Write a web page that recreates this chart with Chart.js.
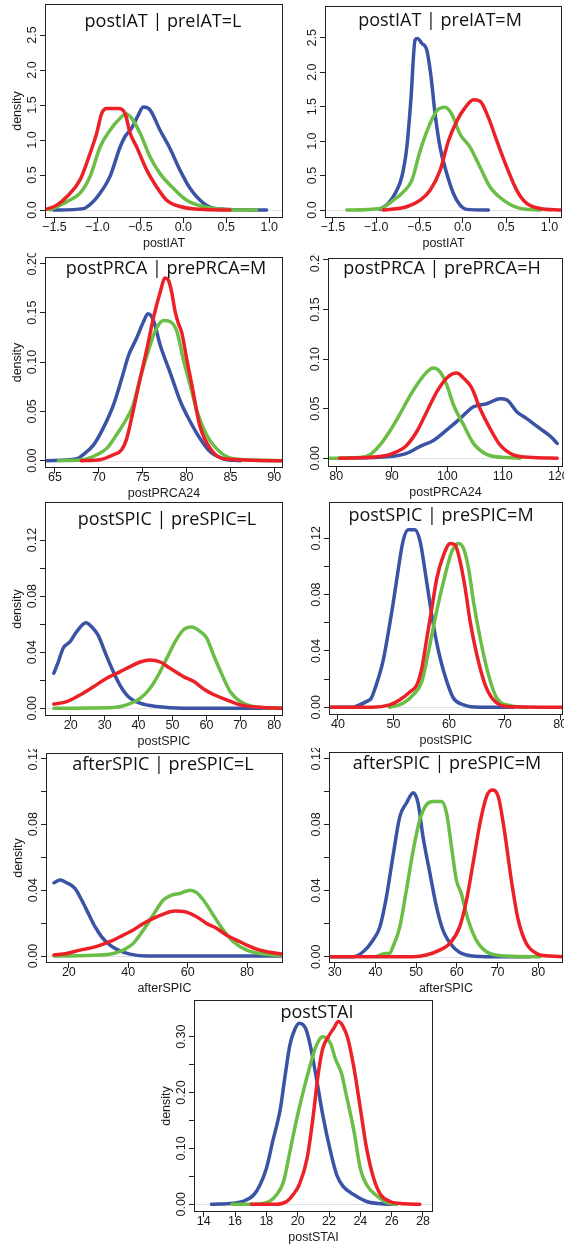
<!DOCTYPE html>
<html><head><meta charset="utf-8">
<script src="https://cdn.jsdelivr.net/npm/chart.js@4.4.1/dist/chart.umd.min.js"></script>
<style>
html,body{margin:0;padding:0;background:#fff;width:564px;height:1245px;overflow:hidden;position:relative}
canvas{position:absolute}
</style>
</head><body>
<script>
// ---------- titles / axis labels ----------
const panelTitles = ["postIAT | preIAT=L","postIAT | preIAT=M","postPRCA | prePRCA=M","postPRCA | prePRCA=H",
  "postSPIC | preSPIC=L","postSPIC | preSPIC=M","afterSPIC | preSPIC=L","afterSPIC | preSPIC=M","postSTAI"];
const xTitles = ["postIAT","postIAT","postPRCA24","postPRCA24","postSPIC","postSPIC","afterSPIC","afterSPIC","postSTAI"];
const yTitles = ["density","","density","","density","","density","","density"];

// ---------- tick values / labels ----------
const iatXTicks = [-1.5,-1.0,-0.5,0,0.5,1.0];
const iatXLabels = ["\u22121.5","\u22121.0","\u22120.5","0.0","0.5","1.0"];
const iatYTicks = [0,0.5,1.0,1.5,2.0,2.5];
const iatYLabels = ["0.0","0.5","1.0","1.5","2.0","2.5"];
const prcaMXTicks = [65,70,75,80,85,90];
const prcaHXTicks = [80,90,100,110,120];
const prcaYTicks = [0,0.05,0.10,0.15,0.20];
const prcaYLabels = ["0.00","0.05","0.10","0.15","0.20"];
const spicLXTicks = [20,30,40,50,60,70,80];
const spicMXTicks = [40,50,60,70,80];
const afterLXTicks = [20,40,60,80];
const afterMXTicks = [30,40,50,60,70,80];
const spicYTicks = [0,0.02,0.04,0.06,0.08,0.10,0.12];
const spicYLabels = ["0.00","","0.04","","0.08","","0.12"];
const staiXTicks = [14,16,18,20,22,24,26,28];
const staiYTicks = [0,0.05,0.10,0.15,0.20,0.25,0.30];
const staiYLabels = ["0.00","","0.10","","0.20","","0.30"];

// ---------- density curves (x, y) ----------
// Panel 1: postIAT | preIAT=L
const p1RedX = [-1.597,-1.473,-1.357,-1.202,-1.085,-1.008,-0.95,-0.891,-0.756,-0.678,-0.62,-0.543,-0.426,-0.31,-0.194,-0.039,0.194,0.543];
const p1RedY = [0.01,0.07,0.19,0.43,0.81,1.10,1.38,1.45,1.45,1.38,1.10,0.90,0.57,0.33,0.14,0.05,0.01,0.0];
const p1GreenX = [-1.55,-1.357,-1.202,-1.085,-0.969,-0.853,-0.736,-0.667,-0.601,-0.504,-0.388,-0.271,-0.116,0.039,0.233,0.581,0.853];
const p1GreenY = [0.0,0.12,0.24,0.48,0.90,1.14,1.31,1.37,1.31,1.10,0.76,0.52,0.31,0.14,0.05,0.0,0.0];
const p1BlueX = [-1.512,-1.163,-1.066,-0.969,-0.853,-0.736,-0.678,-0.601,-0.523,-0.465,-0.388,-0.271,-0.155,-0.039,0.078,0.233,0.388,0.969];
const p1BlueY = [0.0,0.02,0.10,0.24,0.48,0.90,1.05,1.17,1.36,1.47,1.43,1.14,0.88,0.57,0.31,0.10,0.02,0.0];
// Panel 2: postIAT | preIAT=M
const p2RedX = [-0.915,-0.646,-0.492,-0.377,-0.262,-0.165,-0.069,0.027,0.123,0.2,0.296,0.392,0.508,0.623,0.738,0.892,1.142];
const p2RedY = [0.0,0.048,0.144,0.287,0.575,1.006,1.29,1.485,1.60,1.58,1.34,1.006,0.62,0.287,0.096,0.024,0.0];
const p2GreenX = [-1.338,-0.954,-0.8,-0.685,-0.588,-0.492,-0.396,-0.3,-0.204,-0.127,-0.031,0.085,0.2,0.315,0.469,0.662,0.892];
const p2GreenY = [0.0,0.024,0.144,0.263,0.43,0.86,1.20,1.44,1.49,1.39,1.10,0.91,0.62,0.335,0.144,0.024,0.0];
const p2BlueX = [-0.954,-0.858,-0.781,-0.704,-0.646,-0.6,-0.55,-0.523,-0.473,-0.415,-0.369,-0.319,-0.262,-0.185,-0.108,-0.031,0.046,0.296];
const p2BlueY = [0.01,0.10,0.24,0.48,0.91,1.58,2.47,2.49,2.42,2.32,1.96,1.39,0.91,0.53,0.24,0.07,0.01,0.0];
// Panel 3: postPRCA | prePRCA=M
const p3RedX = [68.0,70.1,71.65,72.6,73.2,73.9,74.7,75.5,76.2,77.0,77.55,77.93,78.3,78.7,79.07,79.45,80.0,80.6,81.5,82.7,84.2,91.0];
const p3RedY = [0,0.001,0.006,0.011,0.023,0.05,0.083,0.114,0.144,0.171,0.185,0.183,0.171,0.151,0.139,0.130,0.104,0.077,0.036,0.0125,0.002,0];
const p3GreenX = [65.4,68.2,69.75,70.9,72.0,73.2,73.9,74.7,75.5,76.4,77.4,78.1,78.9,79.6,80.4,81.2,82.3,83.8,85.3,91.0];
const p3GreenY = [0,0.001,0.006,0.0125,0.026,0.043,0.056,0.083,0.107,0.131,0.142,0.141,0.131,0.104,0.077,0.05,0.026,0.009,0.002,0];
const p3BlueX = [64.05,67.5,68.2,69.4,70.5,71.65,72.6,73.4,74.3,75.1,75.6,76.2,77.0,78.1,79.3,80.4,81.5,82.7,84.2,86.1];
const p3BlueY = [0,0.002,0.006,0.016,0.033,0.056,0.083,0.107,0.124,0.141,0.149,0.143,0.117,0.09,0.06,0.04,0.023,0.009,0.002,0];
// Panel 4: postPRCA | prePRCA=H
const p4RedX = [80.6,87.8,90.2,92.65,94.5,96.3,98.1,99.9,101.7,102.9,104.4,105.9,107.7,109.5,111.9,115.5,119.8];
const p4RedY = [0,0.0017,0.005,0.013,0.027,0.047,0.067,0.081,0.086,0.081,0.071,0.05,0.030,0.0134,0.0034,0.0007,0];
const p4GreenX = [78.8,84.2,86.0,87.8,89.6,91.4,92.95,94.5,96.3,97.5,98.7,99.9,101.1,102.9,104.7,107.1,110.7,113.1];
const p4GreenY = [0,0.0007,0.0034,0.013,0.027,0.044,0.06,0.074,0.087,0.091,0.087,0.074,0.054,0.034,0.015,0.004,0.0007,0];
const p4BlueX = [80.6,89.6,92.65,95.1,97.5,99.9,102.3,104.7,107.1,109.5,110.7,112.5,114.3,116.7,118.6,119.8];
const p4BlueY = [0,0.0017,0.005,0.012,0.018,0.0286,0.040,0.052,0.055,0.060,0.059,0.047,0.040,0.030,0.022,0.015];
// Panel 5: postSPIC | preSPIC=L
const p5RedX = [15,18.8,22.7,26.7,30.6,34.5,37.5,40.45,43.4,46.4,49.3,53.25,56.2,59.2,62.1,66.0,70.0,75.9,82.6];
const p5RedY = [0.003,0.0048,0.0095,0.0154,0.0214,0.026,0.0297,0.033,0.0345,0.033,0.0285,0.0226,0.0192,0.0138,0.0098,0.006,0.0024,0.0007,0];
const p5GreenX = [15,32.6,36.5,40.45,43.4,45.9,48.3,50.8,53.25,55.7,58.2,60.1,62.1,64.6,67.0,70.0,73.9,82.6];
const p5GreenY = [0,0.0005,0.0024,0.007,0.0143,0.024,0.0356,0.0475,0.056,0.058,0.0547,0.050,0.038,0.024,0.012,0.0048,0.0012,0];
const p5BlueX = [15.0,16.3,17.8,19.8,21.75,24.5,26.2,28.1,30.1,32.1,34.5,37.0,40.45,45.4,53.2,82.6];
const p5BlueY = [0.025,0.033,0.043,0.0475,0.0547,0.061,0.058,0.052,0.040,0.0285,0.0166,0.0083,0.0036,0.0012,0,0];
// Panel 6: postSPIC | preSPIC=M
const p6RedX = [38.5,46.3,49.3,51.1,53.0,54.2,55.1,56.0,56.9,57.8,59.0,60.2,61.1,62.0,62.9,63.8,65.0,66.5,68.0,70.4,80.5];
const p6RedY = [0,0,0.0017,0.0052,0.011,0.0159,0.0277,0.049,0.0703,0.0916,0.108,0.1164,0.1153,0.1034,0.0845,0.0608,0.0372,0.0159,0.0052,0.0005,0];
const p6GreenX = [49.3,51.7,53.55,55.1,56.3,57.5,59.0,60.5,61.7,62.6,63.5,64.4,65.6,67.1,68.6,71.0,74.0];
const p6GreenY = [0,0.0028,0.0088,0.0182,0.0395,0.0632,0.0892,0.1105,0.1164,0.1129,0.0987,0.075,0.049,0.023,0.0064,0.0012,0];
const p6BlueX = [38.5,42.7,43.9,45.1,46.0,46.9,48.1,49.0,49.9,50.8,51.7,52.65,53.85,54.8,55.7,56.6,57.5,58.4,59.6,60.8,62.6,65.6,71.6];
const p6BlueY = [0,0,0.0017,0.004,0.0064,0.0159,0.0324,0.0514,0.0727,0.0963,0.1176,0.126,0.126,0.1176,0.0963,0.0727,0.0514,0.0348,0.0182,0.0064,0.0017,0,0];
// Panel 7: afterSPIC | preSPIC=L
const p7RedX = [15,19.26,23.75,28.2,31.6,35.0,38.3,41.7,45.1,48.4,51.8,55.7,59.1,63.0,66.4,69.8,73.1,76.5,79.9,84.35,88.8,92.2];
const p7RedY = [0.0006,0.0016,0.0036,0.0053,0.0073,0.0097,0.0127,0.0158,0.0198,0.0229,0.0255,0.0273,0.0269,0.0239,0.0198,0.0168,0.0127,0.0097,0.0067,0.0036,0.002,0.0012];
const p7GreenX = [15,30.5,35,38.3,41.7,45.1,48.4,51.8,54.6,57.4,60.8,63.0,65.3,68.6,72.0,75.4,79.9,85.5,92.2];
const p7GreenY = [0,0.0006,0.0016,0.0036,0.0077,0.0158,0.0249,0.034,0.037,0.038,0.040,0.0385,0.034,0.0249,0.0158,0.0087,0.0036,0.0012,0.0002];
const p7BlueX = [15.0,17.0,19.26,22.06,24.3,26.55,28.8,31.04,33.85,36.65,40.58,46.2,92.2];
const p7BlueY = [0.0445,0.0461,0.0445,0.0411,0.034,0.0259,0.0178,0.0117,0.0067,0.0036,0.0012,0,0];
// Panel 8: afterSPIC | preSPIC=M
const p8RedX = [28.8,49.3,52.5,55.8,58.3,60.7,62.4,64.0,65.7,67.3,68.7,70.2,71.8,73.4,75.1,77.1,79.6,82.9,86.1];
const p8RedY = [0,0,0.001,0.004,0.008,0.018,0.0343,0.0565,0.0807,0.0968,0.1008,0.0968,0.0746,0.0464,0.0222,0.008,0.002,0.0004,0];
const p8GreenX = [40.2,42.5,43.5,44.3,46.0,47.6,49.3,50.9,52.5,54.2,56.2,57.5,58.7,59.9,61.1,62.8,64.8,67.3,72.2,80.4];
const p8GreenY = [0,0.002,0.002,0.006,0.018,0.040,0.0645,0.0827,0.0918,0.0938,0.0938,0.0867,0.0665,0.0464,0.0383,0.0222,0.010,0.003,0.0004,0];
const p8BlueX = [28.8,34.5,37.0,39.4,41.1,42.7,44.3,46.0,47.6,49.3,50.5,51.7,53.4,55.0,56.6,59.1,62.4,67.3,78];
const p8BlueY = [0,0,0.003,0.010,0.018,0.036,0.0605,0.0847,0.0928,0.0992,0.0928,0.0726,0.0504,0.0303,0.0161,0.006,0.001,0,0];
// Panel 9: postSTAI
const p9RedX = [17.05,18.65,19.3,19.7,20.1,20.6,21.0,21.3,21.6,21.96,22.3,22.6,22.9,23.2,23.6,24.0,24.4,24.85,25.3,25.9,26.8,27.8];
const p9RedY = [0,0,0.005,0.017,0.035,0.082,0.16,0.231,0.279,0.30,0.315,0.327,0.318,0.297,0.243,0.172,0.10,0.0465,0.017,0.005,0.001,0];
const p9GreenX = [15.8,16.9,18.0,18.65,19.1,19.5,19.9,20.4,20.8,21.2,21.6,22.1,22.4,22.8,23.1,23.6,24.0,24.4,25.1,25.7,26.3];
const p9GreenY = [0,0,0.003,0.017,0.041,0.094,0.148,0.207,0.249,0.285,0.30,0.288,0.261,0.234,0.196,0.130,0.064,0.035,0.014,0.003,0];
const p9BlueX = [14.5,15.9,16.5,17.2,17.6,18.0,18.4,18.9,19.2,19.5,19.8,20.1,20.5,20.8,21.2,21.6,22.1,22.5,22.9,23.6,24.4,25.5,26.3];
const p9BlueY = [0,0.002,0.005,0.017,0.035,0.064,0.112,0.172,0.231,0.285,0.312,0.324,0.315,0.285,0.225,0.16,0.094,0.052,0.032,0.017,0.005,0.0006,0];

// ---------- panel configuration ----------
const panels = [
  {xr:[-1.61,1.16], yr:[-0.114,2.943], xt:iatXTicks, xl:iatXLabels, yt:iatYTicks, yl:iatYLabels, s:[[p1RedX,p1RedY],[p1GreenX,p1GreenY],[p1BlueX,p1BlueY]]},
  {xr:[-1.59,1.145], yr:[-0.115,2.96], xt:iatXTicks, xl:iatXLabels, yt:iatYTicks, yl:iatYLabels, s:[[p2RedX,p2RedY],[p2GreenX,p2GreenY],[p2BlueX,p2BlueY]]},
  {xr:[63.86,91.0], yr:[-0.0074,0.2064], xt:prcaMXTicks, xl:null, yt:prcaYTicks, yl:prcaYLabels, s:[[p3RedX,p3RedY],[p3GreenX,p3GreenY],[p3BlueX,p3BlueY]]},
  {xr:[78.5,120.84], yr:[-0.0088,0.202], xt:prcaHXTicks, xl:null, yt:prcaYTicks, yl:prcaYLabels, s:[[p4RedX,p4RedY],[p4GreenX,p4GreenY],[p4BlueX,p4BlueY]]},
  {xr:[12.4,82.6], yr:[-0.0055,0.1471], xt:spicLXTicks, xl:null, yt:spicYTicks, yl:spicYLabels, s:[[p5RedX,p5RedY],[p5GreenX,p5GreenY],[p5BlueX,p5BlueY]]},
  {xr:[38.4,80.5], yr:[-0.0055,0.1458], xt:spicMXTicks, xl:null, yt:spicYTicks, yl:spicYLabels, s:[[p6RedX,p6RedY],[p6GreenX,p6GreenY],[p6BlueX,p6BlueY]]},
  {xr:[12.3,92.1], yr:[-0.0042,0.1232], xt:afterLXTicks, xl:null, yt:spicYTicks, yl:spicYLabels, s:[[p7RedX,p7RedY],[p7GreenX,p7GreenY],[p7BlueX,p7BlueY]]},
  {xr:[28.6,86.1], yr:[-0.0038,0.1238], xt:afterMXTicks, xl:null, yt:spicYTicks, yl:spicYLabels, s:[[p8RedX,p8RedY],[p8GreenX,p8GreenY],[p8BlueX,p8BlueY]]},
  {xr:[13.38,28.64], yr:[-0.0138,0.3657], xt:staiXTicks, xl:null, yt:staiYTicks, yl:staiYLabels, s:[[p9RedX,p9RedY],[p9GreenX,p9GreenY],[p9BlueX,p9BlueY]]}
];

// ---------- layout (page pixels): plot box and title centre ----------
const layout = [
  {box:[45,4,283,218], t:[163,22]},
  {box:[325,6,562,218], t:[440,21]},
  {box:[45,257,283,468], t:[166,269]},
  {box:[328,258,563,467], t:[442,269]},
  {box:[45,502,283,716], t:[167,520]},
  {box:[329,502,563,715], t:[441,516]},
  {box:[46,753,283,963], t:[163,765]},
  {box:[329,752,563,963], t:[447,764]},
  {box:[194,1000,433,1212], t:[317,1013]}
];

const COLORS = ['#ec2027','#6abd45','#3a53a4'];
const TXT = '#1a1a1a';
const AXFONT = 'Liberation Sans';

const rbox = {
  id: 'rbox',
  beforeDatasetsDraw(chart, args, o) {
    const {ctx, chartArea: a, scales: {y}} = chart;
    const py = Math.round(y.getPixelForValue(0)) + 0.5;
    ctx.save();
    ctx.strokeStyle = '#e2e2e2'; ctx.lineWidth = 1;
    ctx.beginPath(); ctx.moveTo(a.left, py); ctx.lineTo(a.right, py); ctx.stroke();
    ctx.restore();
  },
  afterDraw(chart, args, o) {
    const {ctx, chartArea: a, scales: {y}} = chart;
    ctx.save();
    ctx.strokeStyle = '#222'; ctx.lineWidth = 1;
    ctx.strokeRect(a.left + 0.5, a.top + 0.5, a.right - a.left - 1, a.bottom - a.top - 1);
    ctx.fillStyle = TXT;
    ctx.font = '12.5px "' + AXFONT + '"';
    ctx.textAlign = 'center'; ctx.textBaseline = 'middle';
    o.yt.forEach((v, k) => {
      const lab = o.yl[k];
      if (!lab) return;
      const py = y.getPixelForValue(v);
      ctx.save(); ctx.translate(a.left - 12, py); ctx.rotate(-Math.PI / 2); ctx.fillText(lab, 0, 0); ctx.restore();
    });
    if (o.ytitle) {
      ctx.save(); ctx.translate(a.left - 27, (a.top + a.bottom) / 2); ctx.rotate(-Math.PI / 2); ctx.fillText(o.ytitle, 0, 0); ctx.restore();
    }
    ctx.fillStyle = '#111';
    ctx.font = '18px "Open Sans"';
    ctx.fillText(o.title, o.tx, o.ty);
    ctx.restore();
  }
};

const padL = 45, padT = 4, padR = 14, padB = 40;
const pts = (xs, ys) => xs.map((x, i) => ({x: x, y: ys[i]}));

panels.forEach((p, i) => {
  const L = layout[i];
  const [x0, y0, x1, y1] = L.box;
  const w = (x1 - x0) + padL + padR, h = (y1 - y0) + padT + padB;
  const left = x0 - padL, top = y0 - padT;
  const c = document.createElement('canvas');
  c.width = w; c.height = h;
  c.style.left = left + 'px'; c.style.top = top + 'px';
  c.style.width = w + 'px'; c.style.height = h + 'px';
  document.body.appendChild(c);
  const xl = p.xl || p.xt.map(v => String(v));
  new Chart(c, {
    type: 'line',
    data: {
      datasets: p.s.map((s, k) => ({
        data: pts(s[0], s[1]),
        borderColor: COLORS[k],
        borderWidth: 3.5,
        pointRadius: 0,
        fill: false,
        cubicInterpolationMode: 'monotone',
        borderCapStyle: 'round',
        borderJoinStyle: 'round'
      }))
    },
    options: {
      responsive: false,
      animation: false,
      devicePixelRatio: 1,
      layout: {padding: {left: 0, top: padT, right: padR, bottom: 0}},
      plugins: {
        legend: {display: false},
        tooltip: {enabled: false},
        rbox: {yt: p.yt, yl: p.yl, ytitle: yTitles[i], title: panelTitles[i], tx: L.t[0] - left, ty: L.t[1] - top}
      },
      scales: {
        x: {
          type: 'linear', min: p.xr[0], max: p.xr[1],
          afterBuildTicks: s => { s.ticks = p.xt.map(v => ({value: v})); },
          afterFit: s => { s.height = padB; },
          ticks: {autoSkip: false, minRotation: 0, maxRotation: 0, padding: -2.5, color: TXT,
                  font: {family: AXFONT, size: 12.5},
                  callback: (v, idx) => xl[idx]},
          grid: {drawOnChartArea: false, drawTicks: true, tickLength: 5, tickColor: '#222', color: '#222', lineWidth: 1},
          border: {display: false},
          title: {display: true, text: xTitles[i], color: TXT, font: {family: AXFONT, size: 12.5}, padding: {top: 0, bottom: 7}}
        },
        y: {
          type: 'linear', min: p.yr[0], max: p.yr[1],
          afterBuildTicks: s => { s.ticks = p.yt.map(v => ({value: v})); },
          afterFit: s => { s.width = padL; },
          ticks: {display: false},
          grid: {drawOnChartArea: false, drawTicks: true, tickLength: 5, tickColor: '#222', color: '#222', lineWidth: 1},
          border: {display: false}
        }
      }
    },
    plugins: [rbox]
  });
});
</script>
</body></html>
